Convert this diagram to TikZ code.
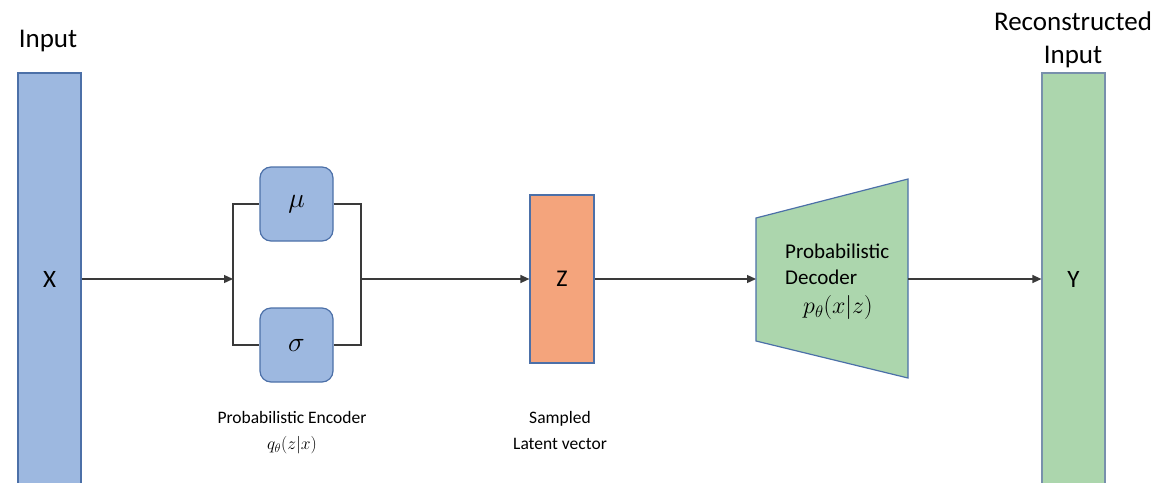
\RequirePackage{fix-cm}
\documentclass[tikz,border=0pt]{standalone}
\usepackage{fontspec}
\setmainfont{Carlito}
\usetikzlibrary{arrows.meta}
\definecolor{bfill}{HTML}{9DB8E0}
\definecolor{bdraw}{HTML}{4C70A8}
\definecolor{ofill}{HTML}{F4A47C}
\definecolor{gfill}{HTML}{ACD6AD}
\definecolor{gdraw}{HTML}{7890AC}
\definecolor{lnc}{HTML}{3A3A3A}
\tikzset{
  bar/.style={draw=#1, line width=1.2pt, minimum width=63pt, minimum height=412pt, inner sep=0pt, font=\fontsize{25}{30}\selectfont},
  musig/.style={draw=bdraw, fill=bfill, line width=1.2pt, rounded corners=11pt, minimum width=73pt, minimum height=74pt, inner sep=0pt, font=\fontsize{28}{30}\selectfont},
  conn/.style={draw=lnc, line width=1.3pt},
  arr/.style={conn, -{Triangle[length=9pt,width=8pt]}},
  toplabel/.style={font=\fontsize{27}{33}\selectfont, align=center, inner sep=0pt},
  botlabel/.style={font=\fontsize{17.5}{26}\selectfont, align=center, inner sep=0pt},
}
\begin{document}
\begin{tikzpicture}[x=1pt,y=-1pt]
\useasboundingbox (0,0) rectangle (1159,482);
% bars
\node[bar=bdraw, fill=bfill] (xin) at (49.5,279) {X};
\node[bar=gdraw, fill=gfill] (yout) at (1073.5,279) {Y};
\node[toplabel] (inlab) at (48,41) {Input};
\node[toplabel] (reclab) at (1073,40) {Reconstructed\\Input};
% encoder
\node[musig] (mu) at (296.5,204) {$\mu$};
\node[musig] (sig) at (296.5,345) {$\sigma$};
\coordinate (split) at (233,279);
\coordinate (merge) at (361,279);
\node[botlabel] (enclab) at (292,433) {Probabilistic Encoder\\$q_\theta(z|x)$};
% latent
\node[draw=bdraw, fill=ofill, line width=1.2pt, minimum width=64pt, minimum height=168pt, inner sep=0pt, font=\fontsize{24}{30}\selectfont] (z) at (562,279) {Z};
\node[botlabel] (zlab) at (560,430) {Sampled\\Latent vector};
% decoder
\coordinate (dtl) at (756,218);
\coordinate (dbl) at (756,341);
\coordinate (dtr) at (908,179);
\coordinate (dbr) at (908,378);
\fill[gfill] (dtl) -- (dtr) -- (dbr) -- (dbl) -- cycle;
\draw[bdraw, line width=1.2pt] (dtl) -- (dtr) -- (dbr) -- (dbl) -- cycle;
\coordinate (decL) at (756,279);
\coordinate (decR) at (908,279);
\node[font=\fontsize{21}{25.5}\selectfont, align=left, anchor=north west, inner sep=0pt] (declab) at (785,244) {Probabilistic\\Decoder\\[4pt]\hspace*{18pt}{\fontsize{24}{25.5}\selectfont$p_\theta(x|z)$}};
% connectors
\draw[arr] (xin.east |- split) -- (split);
\draw[conn] (split) |- (mu.west);
\draw[conn] (split) |- (sig.west);
\draw[conn] (mu.east) -| (merge);
\draw[conn] (sig.east) -| (merge);
\draw[arr] (merge) -- (z.west);
\draw[arr] (z.east) -- (decL);
\draw[arr] (decR) -- (yout.west);
\end{tikzpicture}
\end{document}
